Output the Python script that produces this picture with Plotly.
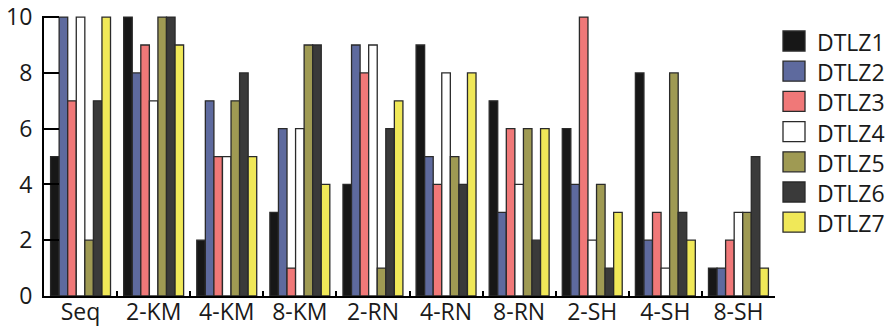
import plotly.graph_objects as go

categories = ["Seq", "2-KM", "4-KM", "8-KM", "2-RN", "4-RN", "8-RN", "2-SH", "4-SH", "8-SH"]
series_names = ["DTLZ1", "DTLZ2", "DTLZ3", "DTLZ4", "DTLZ5", "DTLZ6", "DTLZ7"]
dtlz1 = [5, 10, 2, 3, 4, 9, 7, 6, 8, 1]
dtlz2 = [10, 8, 7, 6, 9, 5, 3, 4, 2, 1]
dtlz3 = [7, 9, 5, 1, 8, 4, 6, 10, 3, 2]
dtlz4 = [10, 7, 5, 6, 9, 8, 4, 2, 1, 3]
dtlz5 = [2, 10, 7, 9, 1, 5, 6, 4, 8, 3]
dtlz6 = [7, 10, 8, 9, 6, 4, 2, 1, 3, 5]
dtlz7 = [10, 9, 5, 4, 7, 8, 6, 3, 2, 1]
series_values = [dtlz1, dtlz2, dtlz3, dtlz4, dtlz5, dtlz6, dtlz7]
colors = ["#171717", "#5e6a9e", "#f07878", "#ffffff", "#9f9a53", "#3a3a3a", "#f0e858"]
y_ticks = [0, 2, 4, 6, 8, 10]

W, H = 893, 327
L, R, T, B = 44, 118, 16, 31
FONT = "Open Sans"
FS = 23

fig = go.Figure()
for name, vals, col in zip(series_names, series_values, colors):
    fig.add_trace(go.Bar(
        x=categories, y=vals, name=name,
        marker=dict(color=col, line=dict(color="#2a2a2a", width=1.3)),
        showlegend=False,
    ))

# custom legend (pixel layout converted to paper coordinates)
pw, ph = W - L - R, H - T - B
def px(xp):
    return (xp - L) / pw
def py(yp):
    return 1 - (yp - T) / ph

shapes = []
annotations = []
for i, (name, col) in enumerate(zip(series_names, colors)):
    yc = 41 + 30.2 * i
    shapes.append(dict(type="rect", xref="paper", yref="paper",
                       x0=px(783), x1=px(805), y0=py(yc - 10), y1=py(yc + 10),
                       fillcolor=col, line=dict(color="#2a2a2a", width=1.3)))
    annotations.append(dict(xref="paper", yref="paper", x=px(815), y=py(yc + 1),
                            text=name, showarrow=False, xanchor="left", yanchor="middle",
                            font=dict(family=FONT, size=FS, color="#1a1a1a")))

fig.update_layout(
    width=W, height=H,
    margin=dict(l=L, r=R, t=T, b=B, pad=0, autoexpand=False),
    paper_bgcolor="white", plot_bgcolor="white",
    barmode="group", bargap=0.18, bargroupgap=0,
    font=dict(family=FONT, size=FS, color="#1a1a1a"),
    shapes=shapes, annotations=annotations,
    showlegend=False,
)
fig.update_xaxes(
    automargin=False,
    showline=True, linecolor="black", linewidth=2,
    ticks="inside", tickson="boundaries", ticklen=5, tickwidth=2, tickcolor="black",
    showgrid=False, zeroline=False,
    tickfont=dict(family=FONT, size=FS), ticklabelstandoff=-6, ticklabeloverflow="allow",
)
fig.update_yaxes(
    automargin=False,
    range=[0, 10.04], tickvals=y_ticks,
    showline=True, linecolor="black", linewidth=2,
    ticks="inside", ticklen=15, tickwidth=2, tickcolor="black",
    showgrid=False, zeroline=False,
    tickfont=dict(family=FONT, size=FS), ticklabelstandoff=5, ticklabeloverflow="allow",
)

fig.write_html("out.html")
